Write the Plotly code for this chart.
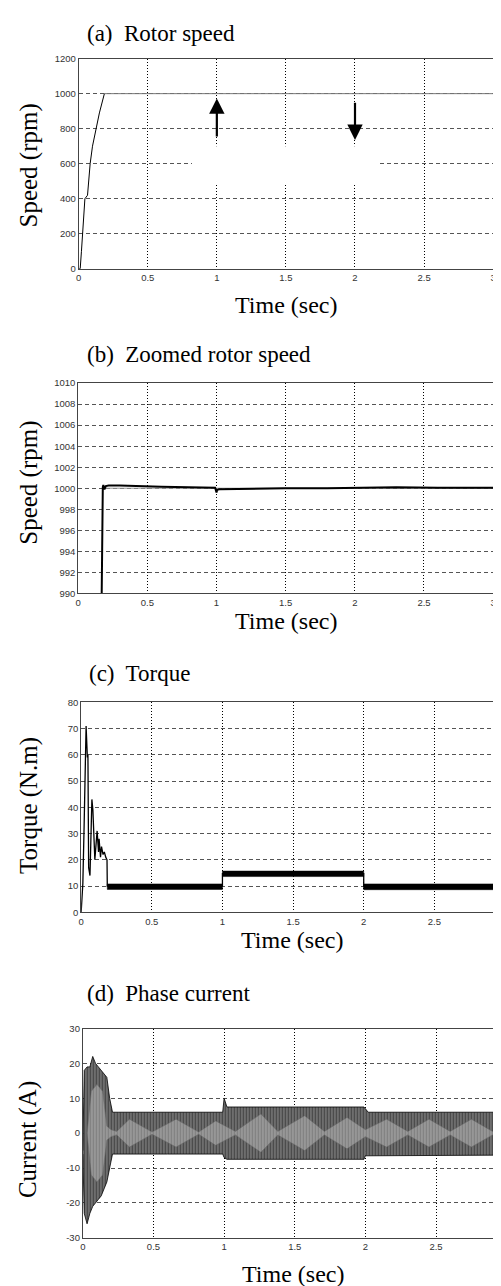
import plotly.graph_objects as go

W, H = 501, 1286

# ---------------- data ----------------
# (a) rotor speed
speed_t = [0.0, 0.011, 0.02, 0.028, 0.045, 0.064, 0.083, 0.1, 0.119, 0.15, 0.186]
speed_v = [0, 0, 100, 200, 400, 420, 600, 700, 780, 890, 1000]
ref_t = [0.186, 3.0]
ref_v = [1000, 1000]
arrow_up = dict(t=1.0, tail=747, tip=973)
arrow_dn = dict(t=2.0, tail=956, tip=736)
mask_t = [0.82, 2.17]
mask_v = [490, 700]

# (b) zoomed rotor speed
zs_t = [0.17, 0.172, 0.178, 0.182, 0.19, 0.2, 0.22, 0.3, 0.4, 0.6, 0.8, 0.99, 1.0, 1.005,
        1.02, 1.2, 1.5, 1.8, 2.0, 2.05, 2.3, 2.6, 3.0]
zs_v = [990, 997.4, 1000.1, 1000.3, 999.9, 1000.2, 1000.25, 1000.25, 1000.2, 1000.15, 1000.1,
        1000.05, 999.6, 999.85, 999.9, 999.95, 1000.0, 1000.0, 1000.05, 1000.1, 1000.1,
        1000.05, 1000.05]

# (c) torque
tq_t = [0.0, 0.007, 0.012, 0.021, 0.028, 0.035, 0.044, 0.048, 0.053, 0.0625, 0.076, 0.083,
        0.097, 0.113, 0.123, 0.127, 0.137, 0.144, 0.155, 0.164, 0.174, 0.183, 0.185,
        1.0, 1.0, 2.0, 2.0, 3.0]
tq_v = [0, 9, 11, 33, 58, 71, 59, 60, 17, 14, 43, 39, 20, 31, 23, 28, 21, 25, 22, 23, 21, 20,
        10, 10, 14.7, 14.7, 9.7, 9.7]
band_start = [0.185, 1.0, 2.0]
band_end = [1.0, 2.0, 3.0]
band_lo = [8.7, 13.6, 8.6]
band_hi = [10.8, 15.7, 10.8]

# (d) phase current: envelope of the oscillation and of the grey beat pattern
cur_t = [0.0, 0.01, 0.03, 0.05, 0.07, 0.09, 0.11, 0.13, 0.15, 0.17, 0.19, 0.21, 0.25, 0.6,
         0.99, 1.0, 1.02, 1.5, 1.99, 2.0, 2.02, 2.5, 3.0]
cur_hi = [-5, 18, 19, 19, 22, 20, 19, 18, 17, 16, 10, 6, 6, 6, 6, 10, 7.5, 7.5, 7.5, 7, 6, 6, 6]
cur_lo = [-6, -23, -26, -23, -21, -20, -19, -18, -16, -14, -10, -6, -6, -6, -6, -7, -7.5,
          -7.5, -7.5, -6.5, -6.3, -6.3, -6.3]
beat_t = [0.03, 0.06, 0.10, 0.14, 0.17, 0.2, 0.24, 0.33, 0.49, 0.66, 0.82, 0.94, 1.08, 1.26,
          1.38, 1.57, 1.71, 1.87, 2.0, 2.15, 2.3, 2.45, 2.6, 2.75, 2.9, 3.0]
beat_a = [0, 12, 14, 12, 2, 1, 0.5, 4, 0.3, 4, 0.3, 3.5, 0.5, 5.5, 0.5, 5, 0.5, 4.5, 1, 4,
          0.5, 4, 0.5, 4, 0.5, 2.5]

x_ticks = [0, 0.5, 1, 1.5, 2, 2.5, 3]
x_tick_text = ["0", "0.5", "1", "1.5", "2", "2.5", "3"]
ya_ticks = [0, 200, 400, 600, 800, 1000, 1200]
yb_ticks = [990, 992, 994, 996, 998, 1000, 1002, 1004, 1006, 1008, 1010]
yc_ticks = [0, 10, 20, 30, 40, 50, 60, 70, 80]
yd_ticks = [-30, -20, -10, 0, 10, 20, 30]

titles = ["(a)  Rotor speed", "(b)  Zoomed rotor speed", "(c)  Torque", "(d)  Phase current"]
ytitles = ["Speed (rpm)", "Speed (rpm)", "Torque (N.m)", "Current (A)"]
xtitle = "Time (sec)"

# ---------------- layout geometry (pixels) ----------------
plots = [  # left, right, top, bottom
    (68.5, 488, 45, 257),
    (68, 488, 372.3, 584.3),
    (71, 500, 694.3, 906),
    (72.7, 501, 1023.3, 1234.3),
]
title_pos = [(75, 20), (75, 343), (77, 665), (75, 988)]
xtitle_pos = [(278, 294), (278, 612), (284, 934), (285, 1271)]
ytitle_pos = [(18, 153), (18, 473), (18, 798), (18, 1135)]
x_ranges = [[0, 3], [0, 3], [0, 3], [0, 3 * (501 - 72.7) / 429]]
y_ranges = [[0, 1200], [990, 1010], [0, 80], [-30, 30]]
y_tickvals = [ya_ticks, yb_ticks, yc_ticks, yd_ticks]

fig = go.Figure()

def ax(i):
    return ("x" if i == 0 else f"x{i+1}"), ("y" if i == 0 else f"y{i+1}")

# (a)
xa, ya = ax(0)
fig.add_trace(go.Scatter(x=ref_t, y=ref_v, mode="lines", line=dict(color="#777", width=1),
                         xaxis=xa, yaxis=ya))
fig.add_trace(go.Scatter(x=speed_t, y=speed_v, mode="lines", line=dict(color="black", width=1),
                         xaxis=xa, yaxis=ya))

# (b)
xb, yb = ax(1)
fig.add_trace(go.Scatter(x=[zs_t[3], 3.0], y=[1000, 1000], mode="lines",
                         line=dict(color="#999", width=1), xaxis=xb, yaxis=yb))
fig.add_trace(go.Scatter(x=zs_t, y=zs_v, mode="lines", line=dict(color="black", width=2),
                         xaxis=xb, yaxis=yb))

# (c)
xc, yc = ax(2)
for s, e, lo, hi in zip(band_start, band_end, band_lo, band_hi):
    fig.add_trace(go.Scatter(x=[s, e, e, s, s], y=[lo, lo, hi, hi, lo], mode="lines",
                             fill="toself", fillcolor="black", line=dict(color="black", width=0.5),
                             xaxis=xc, yaxis=yc))
fig.add_trace(go.Scatter(x=tq_t, y=tq_v, mode="lines", line=dict(color="black", width=1.3),
                         xaxis=xc, yaxis=yc))

# (d)
xd, yd = ax(3)
fig.add_trace(go.Scatter(x=cur_t + cur_t[::-1], y=cur_hi + cur_lo[::-1], mode="lines",
                         fill="toself", line=dict(color="black", width=0.8),
                         fillpattern=dict(shape="|", fgcolor="black", bgcolor="#8a8a8a",
                                          size=3, solidity=0.6),
                         xaxis=xd, yaxis=yd))
beat_lo = [-a for a in beat_a]
fig.add_trace(go.Scatter(x=beat_t + beat_t[::-1], y=beat_a + beat_lo[::-1], mode="lines",
                         fill="toself", line=dict(color="#666", width=0.5),
                         fillpattern=dict(shape="|", fgcolor="#555", bgcolor="#a8a8a8",
                                          size=3, solidity=0.6),
                         xaxis=xd, yaxis=yd))

layout = dict(width=W, height=H, margin=dict(l=0, r=0, t=0, b=0), showlegend=False,
              paper_bgcolor="white", plot_bgcolor="white")

tickfont = dict(family="Liberation Sans, Arial, sans-serif", size=9.5, color="#333")
for i, (l, r, t, b) in enumerate(plots):
    xn = "xaxis" if i == 0 else f"xaxis{i+1}"
    yn = "yaxis" if i == 0 else f"yaxis{i+1}"
    xa_id, ya_id = ax(i)
    layout[xn] = dict(domain=[l / W, min(r / W, 1)], range=x_ranges[i], anchor=ya_id,
                      tickmode="array", tickvals=x_ticks, ticktext=x_tick_text,
                      showgrid=True, gridcolor="black", gridwidth=1, griddash="1px,2px",
                      zeroline=False, showline=True, linecolor="#444", linewidth=1, mirror=True,
                      ticks="", tickfont=tickfont, fixedrange=True)
    layout[yn] = dict(domain=[1 - b / H, 1 - t / H], range=y_ranges[i], anchor=xa_id,
                      tickmode="array", tickvals=y_tickvals[i],
                      ticktext=[str(v) for v in y_tickvals[i]],
                      showgrid=True, gridcolor="#555", gridwidth=1, griddash="4px,3px",
                      zeroline=False, showline=True, linecolor="#444", linewidth=1, mirror=True,
                      ticks="", tickfont=tickfont, fixedrange=True)

serif = "Liberation Serif, Times New Roman, serif"
ann = []
for i in range(4):
    tx, ty = title_pos[i]
    ann.append(dict(text=titles[i], x=tx / W, y=1 - ty / H, xref="paper", yref="paper",
                    xanchor="left", yanchor="middle", showarrow=False,
                    font=dict(family=serif, size=23, color="black")))
    xx, xy = xtitle_pos[i]
    ann.append(dict(text=xtitle, x=xx / W, y=1 - xy / H, xref="paper", yref="paper",
                    xanchor="center", yanchor="middle", showarrow=False,
                    font=dict(family=serif, size=24, color="black")))
    yx, yy = ytitle_pos[i]
    ann.append(dict(text=ytitles[i], x=yx / W, y=1 - yy / H, xref="paper", yref="paper",
                    xanchor="center", yanchor="middle", showarrow=False, textangle=-90,
                    font=dict(family=serif, size=25, color="black")))

for a in (arrow_up, arrow_dn):
    ann.append(dict(x=a["t"], y=a["tip"], ax=a["t"], ay=a["tail"], xref="x", yref="y",
                    axref="x", ayref="y", showarrow=True, arrowhead=2, arrowsize=1.4,
                    arrowwidth=2.2, arrowcolor="black", text=""))
layout["annotations"] = ann
layout["shapes"] = [dict(type="rect", xref="x", yref="y", x0=mask_t[0], x1=mask_t[1],
                         y0=mask_v[0], y1=mask_v[1], fillcolor="white", line=dict(width=0),
                         layer="above")]

fig.update_layout(**layout)
fig.write_html("out.html")
